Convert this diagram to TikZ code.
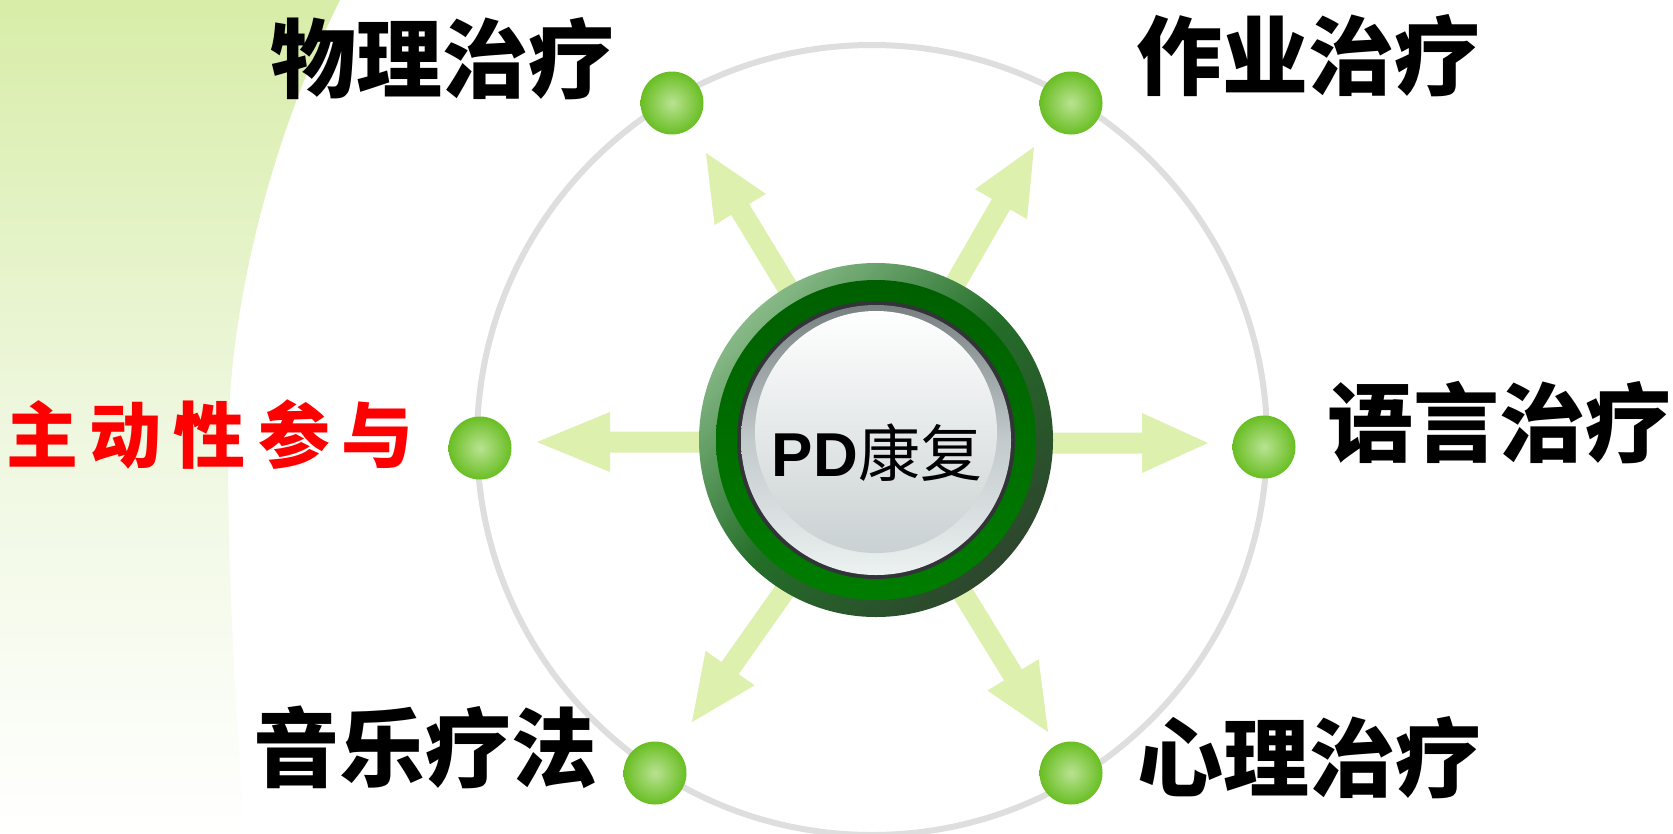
\documentclass[tikz,border=0pt]{standalone}
\usepackage{fontspec}
\setmainfont{Liberation Sans}
\newfontfamily\cjk{Noto Sans CJK SC}
\usetikzlibrary{calc}
\definecolor{arrowgreen}{RGB}{221,240,174}
\definecolor{bgtop}{RGB}{216,237,168}
\definecolor{bgmid}{RGB}{238,247,222}
\definecolor{ringgrey}{RGB}{222,222,222}
\definecolor{ringlight}{RGB}{135,185,135}
\definecolor{ringmid}{RGB}{35,110,40}
\definecolor{ringdark}{RGB}{45,70,45}
\definecolor{innerdark}{RGB}{0,95,0}
\definecolor{innerbright}{RGB}{0,125,0}
\definecolor{outline}{RGB}{50,52,55}
\definecolor{disktop}{RGB}{120,128,130}
\definecolor{diskmid}{RGB}{195,202,204}
\definecolor{diskbot}{RGB}{236,241,241}
\definecolor{hlbot}{RGB}{202,209,210}
\definecolor{dotin}{RGB}{185,226,145}
\definecolor{dotout}{RGB}{105,190,35}
\newcommand\fatarrow[3]{%
  \path ($(#2)!#3pt!(#1)$) coordinate (ab);
  \fill[arrowgreen] ($(#1)!10.5pt!90:(#2)$) -- ($(ab)!10.5pt!90:(#2)$) -- ($(ab)!30pt!90:(#2)$) -- (#2)
    -- ($(ab)!30pt!-90:(#2)$) -- ($(ab)!10.5pt!-90:(#2)$) -- ($(#1)!10.5pt!-90:(#2)$) -- cycle;
}
\tikzset{
  dot/.style={circle, minimum size=63pt, inner sep=0pt, inner color=dotin, outer color=dotout},
  lab/.style={font={\cjk\bfseries\fontsize{86}{86}\selectfont}, inner sep=0pt},
}
\begin{document}
\begin{tikzpicture}[x=1pt,y=-1pt]
\useasboundingbox (0,0) rectangle (1673,833);
\fill[white] (0,0) rectangle (1673,833);
% background
\shade[top color=bgtop, bottom color=white, middle color=bgmid]
  (0,0) -- (340,0) .. controls (275,130) and (228,300) .. (228,450)
  .. controls (228,600) and (238,750) .. (245,833) -- (0,833) -- cycle;
% big grey circle
\coordinate (bc) at (872,440);
\draw[ringgrey, line width=6pt] (bc) circle[radius=395];
% arrows
\coordinate (c) at (876,440);
\coordinate (sL) at (876,442);  \coordinate (tL) at (537,442);
\coordinate (sR) at (876,443);  \coordinate (tR) at (1208,443);
\coordinate (sUL) at (880,440); \coordinate (tUL) at (706,153);
\coordinate (sUR) at (865,440); \coordinate (tUR) at (1034,147);
\coordinate (sLL) at (891,440); \coordinate (tLL) at (692,722);
\coordinate (sLR) at (869,440); \coordinate (tLR) at (1048,732);
\fatarrow{sL}{tL}{73}
\fatarrow{sR}{tR}{66}
\fatarrow{sUL}{tUL}{66}
\fatarrow{sUR}{tUR}{66}
\fatarrow{sLL}{tLL}{66}
\fatarrow{sLR}{tLR}{67}
% central button
\shade[top color=ringlight, bottom color=ringdark, middle color=ringmid, shading angle=45] (c) circle[radius=177];
\shade[top color=innerdark, bottom color=innerbright] (c) circle[radius=160];
\fill[outline] (c) circle[radius=139];
\shade[top color=disktop, bottom color=diskbot, middle color=diskmid] (c) circle[radius=135];
\shade[top color=white, bottom color=hlbot] ($(c)+(0,-8)$) circle[radius=121];
\node[inner sep=0pt, font=\fontsize{62}{62}\selectfont] (pd) at (877,453) {\textbf{PD}{\cjk 康复}};
% dots
\node[dot] (d1) at (672,103) {};
\node[dot] (d2) at (1071,103) {};
\node[dot] (d3) at (1264,447) {};
\node[dot] (d4) at (480,448) {};
\node[dot] (d5) at (655,773) {};
\node[dot] (d6) at (1071,773) {};
% labels
\node[lab] (l1) at (442,59) {物理治疗};
\node[lab] (l2) at (1308,56) {作业治疗};
\node[lab] (l3) at (1499,423) {语言治疗};
\node[lab] (l5) at (425,747) {音乐疗法};
\node[lab] (l6) at (1309,758) {心理治疗};
\node[inner sep=0pt, text=red, font={\cjk\bfseries\fontsize{72}{72}\selectfont}] (l4) at (210,435)
  {主\kern12pt 动\kern12pt 性\kern12pt 参\kern12pt 与};
\end{tikzpicture}
\end{document}
